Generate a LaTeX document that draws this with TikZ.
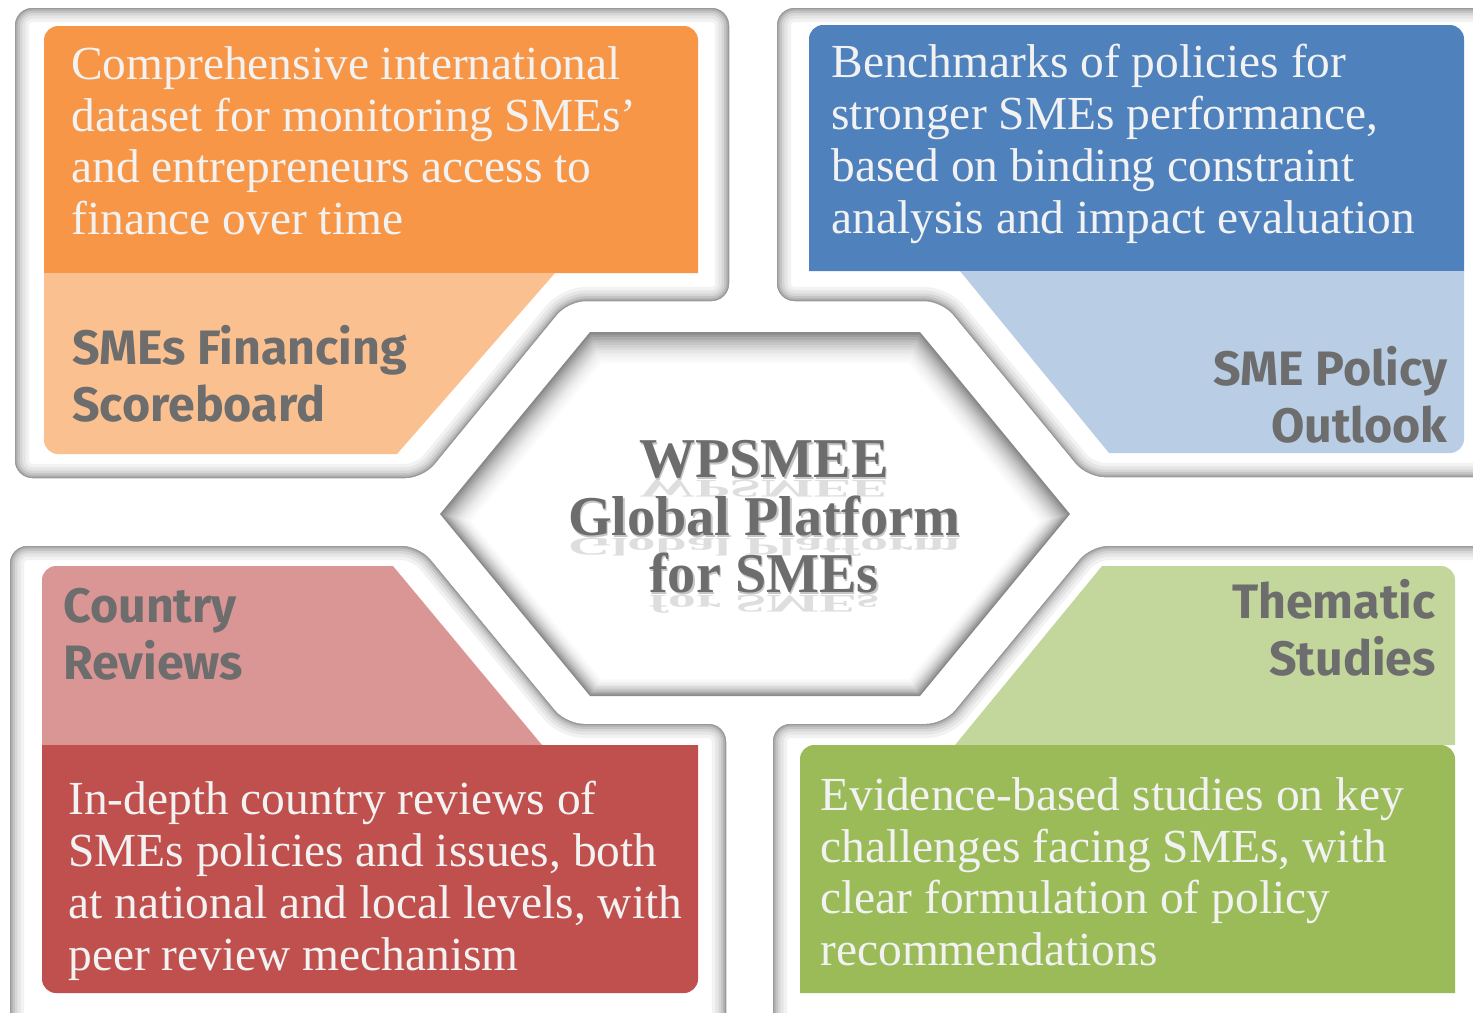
\documentclass[tikz,border=0pt]{standalone}
\usepackage{fontspec}
\setmainfont{Liberation Serif}
\newfontfamily\headfont{Fira Sans}

\definecolor{orangeD}{HTML}{F79646}
\definecolor{orangeL}{HTML}{FAC090}
\definecolor{blueD}{HTML}{4F81BD}
\definecolor{blueL}{HTML}{B9CDE5}
\definecolor{redD}{HTML}{C0504D}
\definecolor{redL}{HTML}{D99694}
\definecolor{greenD}{HTML}{9BBB59}
\definecolor{greenL}{HTML}{C3D69B}
\definecolor{labelgray}{HTML}{6D6D6D}
\definecolor{boxtext}{HTML}{F2F2F2}

\tikzset{
  panel/.style={rounded corners=10pt},
  boxtxt/.style={anchor=north west, inner sep=0pt, align=left, text=boxtext,
    font=\fontsize{27}{29.5}\selectfont},
  headtxt/.style={inner sep=0pt, text=labelgray,
    font=\headfont\bfseries\fontsize{27.5}{32.3}\selectfont},
  hextitle/.style={anchor=base, inner sep=0pt, text=labelgray,
    font=\bfseries\fontsize{32}{32}\selectfont},
  hexshadow/.style={hextitle, text=black!45, opacity=0.5},
  hexmirror/.style={hextitle, yscale=-0.45, text=black!45, opacity=0.28},
}

\begin{document}
\begin{tikzpicture}[x=0.02cm,y=-0.02cm]
\useasboundingbox (0,0) rectangle (1473,1012);
\clip (0,0) rectangle (1473,1012);

% frames, grey inner edge
\foreach \frm in {
  {(15,8) -- (729,8) -- (729,301) -- (568,301) -- (423,478) -- (15,478) -- cycle},
  {(777,8) -- (1500,8) -- (1500,477) -- (1087,477) -- (942,301) -- (777,301) -- cycle},
  {(10,546) -- (419,546) -- (566,724) -- (726,724) -- (726,1040) -- (10,1040) -- cycle},
  {(773,724) -- (944,724) -- (1091,546) -- (1500,546) -- (1500,1040) -- (773,1040) -- cycle}}{
  \begin{scope}
    \clip[panel] \frm;
    \foreach \w/\c in {16/5,12/10,8.5/16,5.5/23,3/31,1.2/40}
      \draw[panel, line width=\w pt, black!\c] \frm;
  \end{scope}
}

% hexagon in the middle
\foreach \d/\c in {0/46,2/39,4/33,6/27,8/22,10/18,12/14,14/10,16/7,18/5,20/3,22/1.5,24/0}{
  \pgfmathsetmacro\hexH{182-\d}
  \pgfmathsetmacro\hexW{315-1.3*\d}
  \pgfmathsetmacro\hexT{165-0.47*\d}
  \pgfmathsetmacro\hexY{514+0.3*\d}
  \fill[black!\c] ({755-\hexT},{\hexY-\hexH}) -- ({755+\hexT},{\hexY-\hexH})
    -- ({755+\hexW},\hexY) -- ({755+\hexT},{\hexY+\hexH})
    -- ({755-\hexT},{\hexY+\hexH}) -- ({755-\hexW},\hexY) -- cycle;
}

% top left
\fill[orangeD] (44,273) [rounded corners=8pt] -- (44,26) -- (698,26) [sharp corners] -- (698,273) -- cycle;
\fill[orangeL] (44,273) -- (555,273) -- (397,454) [rounded corners=8pt] -- (44,454) [sharp corners] -- cycle;
\node[boxtxt] (finText) at (71,46) {Comprehensive international\\dataset for monitoring SMEs'\\and entrepreneurs access to\\finance over time};
\node[headtxt, anchor=north west, align=left] (finHead) at (72,325) {SMEs Financing\\Scoreboard};

% top right
\fill[blueD] (809,271) [rounded corners=8pt] -- (809,25) -- (1464,25) [sharp corners] -- (1464,271) -- cycle;
\fill[blueL] (960,271) -- (1464,271) [rounded corners=8pt] -- (1464,453) [sharp corners] -- (1109,453) -- cycle;
\node[boxtxt] (polText) at (831,44) {Benchmarks of policies for\\stronger SMEs performance,\\based on binding constraint\\analysis and impact evaluation};
\node[headtxt, anchor=north east, align=right] (polHead) at (1448,346) {SME Policy\\Outlook};

% bottom left
\fill[redL] (42,745) [rounded corners=8pt] -- (42,566) [sharp corners] -- (393,566) -- (542,745) -- cycle;
\fill[redD] (42,745) -- (698,745) [rounded corners=8pt] -- (698,993) -- (42,993) [sharp corners] -- cycle;
\node[boxtxt] (revText) at (68,781) {In-depth country reviews of\\SMEs policies and issues, both\\at national and local levels, with\\peer review mechanism};
\node[headtxt, anchor=north west, align=left] (revHead) at (63,588) {Country\\Reviews};

% bottom right
\fill[greenL] (955,745) -- (1102,566) [rounded corners=8pt] -- (1455,566) [sharp corners] -- (1455,745) -- cycle;
\fill[greenD] (800,993) [rounded corners=8pt] -- (800,745) -- (1455,745) [sharp corners] -- (1455,993) -- cycle;
\node[boxtxt] (thmText) at (820,777) {Evidence-based studies on key\\challenges facing SMEs, with\\clear formulation of policy\\recommendations};
\node[headtxt, anchor=north east, align=right] (thmHead) at (1436,579) {Thematic\\Studies};

% title
\foreach \txt/\yb [count=\i] in {WPSMEE/477, Global Platform/535, for SMEs/592}{
  \node[hexmirror] (mirror\i) at (764,\yb+3) {\txt};
  \node[hexshadow] (shadow\i) at (765.5,\yb+2.5) {\txt};
  \node[hextitle] (title\i) at (764,\yb) {\txt};
}
\end{tikzpicture}
\end{document}
